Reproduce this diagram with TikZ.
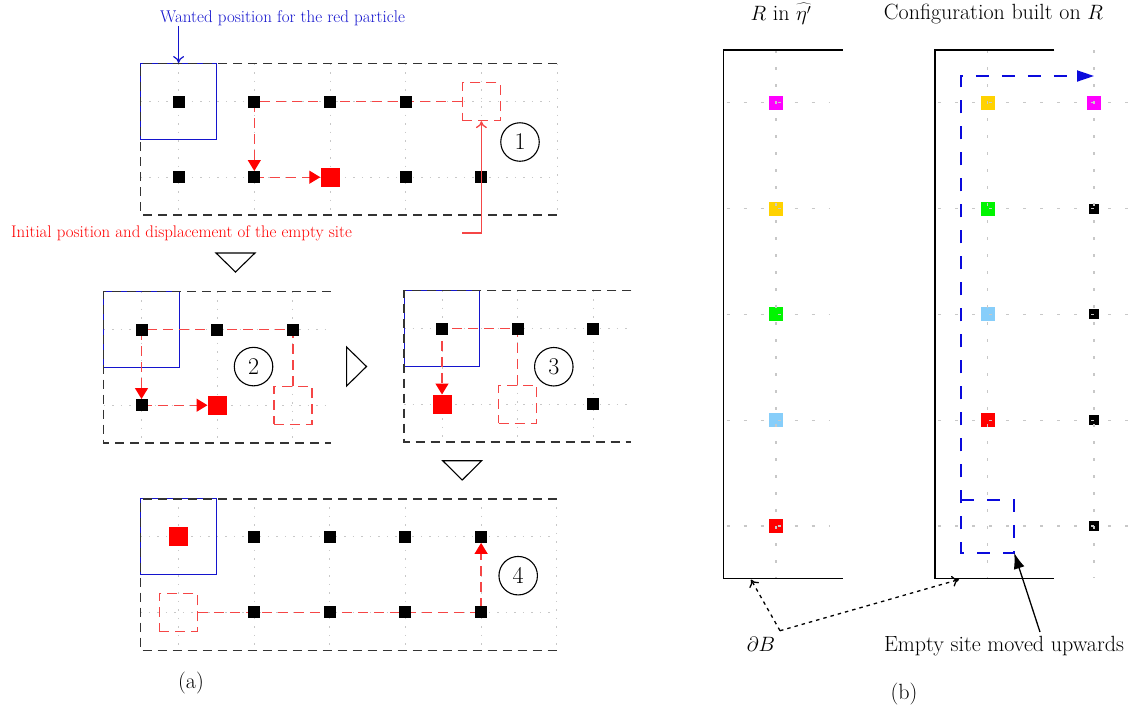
\documentclass[tikz,border=0pt]{standalone}
\usetikzlibrary{arrows.meta}
\definecolor{redl}{RGB}{245,70,70}
\definecolor{bluet}{RGB}{20,20,205}
\definecolor{bluep}{RGB}{10,10,220}
\definecolor{gridc}{RGB}{200,200,200}
\definecolor{goldc}{RGB}{255,210,0}
\definecolor{lbluec}{RGB}{135,206,250}
\definecolor{greenc}{RGB}{0,245,0}
\definecolor{magc}{RGB}{255,0,255}
\newcommand\myBig{\fontsize{22}{26}\selectfont}
\newcommand\mySmall{\fontsize{16.85}{19}\selectfont}
\newcommand\myBlue{\fontsize{17}{20}\selectfont}
\newcommand\myNum{\fontsize{24}{28}\selectfont}
\pgfdeclarelayer{gridlayer}
\pgfdeclarelayer{pathlayer}
\pgfsetlayers{gridlayer,pathlayer,main}
\begin{document}
\begin{tikzpicture}[x=1pt,y=-1pt,
 gridA/.style={draw=gridc,line width=1pt,dash pattern=on 1.5pt off 7pt},
 gridB/.style={draw=gridc,line width=1.2pt,dash pattern=on 3pt off 14pt},
 frame/.style={draw=black!80,line width=1.4pt,dash pattern=on 9pt off 6pt},
 target/.style={draw=bluet,line width=1.2pt,minimum size=75.7pt,inner sep=0pt},
 blk/.style={fill=black,minimum size=12pt,inner sep=0pt},
 redsq/.style={fill=red,minimum size=19pt,inner sep=0pt},
 emptysite/.style={draw=redl,line width=1.3pt,dash pattern=on 10pt off 6pt,minimum size=38pt,inner sep=0pt},
 move/.style={draw=redl,line width=1.3pt,dash pattern=on 10pt off 6pt,-{Triangle[length=11pt,width=13pt,color=red]}},
 num/.style={circle,draw,line width=1.1pt,minimum size=38.5pt,inner sep=0pt,font=\myNum},
 turn/.style={draw,line width=1.1pt,line join=miter},
 opentip/.style={-{To[length=7pt,width=11pt]}},
 wall/.style={draw,line width=1.6pt},
 csq/.style={minimum size=14pt,inner sep=0pt},
 bsq/.style={fill=black,minimum size=10pt,inner sep=0pt},
 bpath/.style={draw=bluep,line width=1.8pt,dash pattern=on 13pt off 13pt},
 dots/.style={draw,line width=1.3pt,dash pattern=on 3.5pt off 4pt},
 lbl/.style={font=\myBig,inner sep=0pt}
]
\useasboundingbox (0,0) rectangle (1142,713);

% ---------------- panel 1
\begin{scope}[shift={(178.6,101.5)},x=75.7pt,y=-75.7pt]
 \begin{pgfonlayer}{gridlayer}
 \foreach \i in {0,...,5} \draw[gridA] (\i,-0.5) -- (\i,1.5);
 \foreach \j in {0,1} \draw[gridA] (-0.5,\j) -- (5,\j);
 \node[target] (p1t) at (0,0) {};
 \draw[frame] (5,-0.5) -- (-0.5,-0.5) -- (-0.5,1.5) -- (5,1.5);
 \end{pgfonlayer}
 \node[blk] (p1q00) at (0,0) {};
 \node[blk] (p1q10) at (1,0) {};
 \node[blk] (p1q20) at (2,0) {};
 \node[blk] (p1q30) at (3,0) {};
 \node[blk] (p1q01) at (0,1) {};
 \node[blk] (p1q11) at (1,1) {};
 \node[blk] (p1q31) at (3,1) {};
 \node[blk] (p1q41) at (4,1) {};
 \node[redsq] (p1r) at (2,1) {};
 \node[emptysite] (p1e) at (4,0) {};
 \begin{pgfonlayer}{pathlayer}
 \draw[move] (p1e.west) -- (p1q10.center) -- (p1q11.north);
 \draw[move] (p1q11.center) -- (p1r.west);
 \end{pgfonlayer}
 \node[num] (n1) at (4.51,0.535) {1};
\end{scope}

\node[text=bluet,font=\myBlue,anchor=base west,inner sep=0pt] (wanted) at (160,22.5) {Wanted position for the red particle};
\draw[bluet,line width=1.2pt,opentip] (wanted.south -| p1t.north) -- (p1t.north);
\node[text=red,font=\mySmall,anchor=base west,inner sep=0pt] (initial) at (11,237) {Initial position and displacement of the empty site};
\coordinate (labA) at (462,233);
\draw[redl,line width=1.3pt,opentip] (labA) -| (p1e.south);

% transition marks
\draw[turn] (442.7,460.7) -- (481.7,460.7) -- (462.2,480) -- cycle;
\draw[turn] (216,253) -- (255,253) -- (235.5,272) -- cycle;
\draw[turn] (346.6,347) -- (346.6,386) -- (366.5,366.5) -- cycle;

% ---------------- panel 2
\begin{scope}[shift={(141.5,329.5)},x=75.7pt,y=-75.7pt]
 \begin{pgfonlayer}{gridlayer}
 \foreach \i in {0,1,2} \draw[gridA] (\i,-0.5) -- (\i,1.5);
 \foreach \j in {0,1} \draw[gridA] (-0.5,\j) -- (2.5,\j);
 \node[target] (p2t) at (0,0) {};
 \draw[frame] (2.5,-0.5) -- (-0.5,-0.5) -- (-0.5,1.5) -- (2.5,1.5);
 \end{pgfonlayer}
 \node[blk] (p2q00) at (0,0) {};
 \node[blk] (p2q10) at (1,0) {};
 \node[blk] (p2q20) at (2,0) {};
 \node[blk] (p2q01) at (0,1) {};
 \node[redsq] (p2r) at (1,1) {};
 \node[emptysite] (p2e) at (2,1) {};
 \begin{pgfonlayer}{pathlayer}
 \draw[move] (p2e.north) -- (p2q20.center) -- (p2q00.center) -- (p2q01.north);
 \draw[move] (p2q01.center) -- (p2r.west);
 \end{pgfonlayer}
 \node[num] (n2) at (1.48,0.49) {2};
\end{scope}

% ---------------- panel 3
\begin{scope}[shift={(442,328.5)},x=75.7pt,y=-75.7pt]
 \begin{pgfonlayer}{gridlayer}
 \foreach \i in {0,1,2} \draw[gridA] (\i,-0.5) -- (\i,1.5);
 \foreach \j in {0,1} \draw[gridA] (-0.5,\j) -- (2.5,\j);
 \node[target] (p3t) at (0,0) {};
 \draw[frame] (2.5,-0.5) -- (-0.5,-0.5) -- (-0.5,1.5) -- (2.5,1.5);
 \end{pgfonlayer}
 \node[blk] (p3q00) at (0,0) {};
 \node[blk] (p3q10) at (1,0) {};
 \node[blk] (p3q20) at (2,0) {};
 \node[blk] (p3q21) at (2,1) {};
 \node[redsq] (p3r) at (0,1) {};
 \node[emptysite] (p3e) at (1,1) {};
 \begin{pgfonlayer}{pathlayer}
 \draw[move] (p3e.north) -- (p3q10.center) -- (p3q00.center) -- (p3r.north);
 \end{pgfonlayer}
 \node[num] (n3) at (1.477,0.505) {3};
\end{scope}

% ---------------- panel 4
\begin{scope}[shift={(178.3,536.7)},x=75.7pt,y=-75.7pt]
 \begin{pgfonlayer}{gridlayer}
 \foreach \i in {0,...,5} \draw[gridA] (\i,-0.5) -- (\i,1.5);
 \foreach \j in {0,1} \draw[gridA] (-0.5,\j) -- (5,\j);
 \node[target] (p4t) at (0,0) {};
 \draw[frame] (5,-0.5) -- (-0.5,-0.5) -- (-0.5,1.5) -- (5,1.5);
 \end{pgfonlayer}
 \foreach \i in {1,...,4} {
   \node[blk] (p4q\i0) at (\i,0) {};
   \node[blk] (p4q\i1) at (\i,1) {};
 }
 \node[redsq] (p4r) at (0,0) {};
 \node[emptysite] (p4e) at (0,1) {};
 \begin{pgfonlayer}{pathlayer}
 \draw[move] (p4e.east) -- (p4q41.center) -- (p4q40.south);
 \end{pgfonlayer}
 \node[num] (n4) at (4.49,0.515) {4};
\end{scope}

\node[lbl] (capa) at (191,683) {(a)};

% ---------------- panel (b)
\node[lbl] (titleL) at (781,14) {$R$ in $\widehat{\eta'}$};
\node[lbl] (titleR) at (993.5,14) {Configuration built on $R$};

% left box
\node[csq,fill=magc] (l0) at (776,102.7) {};
\node[csq,fill=goldc] (l1) at (776,208.5) {};
\node[csq,fill=greenc] (l2) at (776,314.3) {};
\node[csq,fill=lbluec] (l3) at (776,420.1) {};
\node[csq,fill=red] (l4) at (776,525.9) {};
\draw[gridB] (776,50) -- (776,578.3);
\foreach \y in {102.7,208.5,314.3,420.1,525.9} \draw[gridB] (726.7,\y) -- (829.3,\y);
\draw[wall] (842.7,50) -- (723.3,50) -- (723.3,578.3) -- (842.7,578.3);

% right box
\node[csq,fill=goldc] (r0) at (987.7,102.7) {};
\node[csq,fill=greenc] (r1) at (987.7,208.5) {};
\node[csq,fill=lbluec] (r2) at (987.7,314.3) {};
\node[csq,fill=red] (r3) at (987.7,420.1) {};
\node[csq,fill=magc] (s0) at (1094,102.7) {};
\node[bsq] (s1) at (1094,208.5) {};
\node[bsq] (s2) at (1094,314.3) {};
\node[bsq] (s3) at (1094,420.1) {};
\node[bsq] (s4) at (1094,525.9) {};
\draw[gridB] (987.7,50) -- (987.7,578.3);
\draw[gridB] (1094,50) -- (1094,578.3);
\foreach \y in {102.7,208.5,314.3,420.1,525.9} \draw[gridB] (938,\y) -- (1142,\y);
\draw[wall] (1054.3,50) -- (935,50) -- (935,578.3) -- (1054.3,578.3);

\node[minimum size=52.5pt,inner sep=0pt] (be) at (987.7,526.3) {};
\coordinate (btip) at (1094,76);
\draw[bpath,-{Triangle[length=17pt,width=11pt]}] (be.north west) -- (be.north east) -- (be.south east) -- (be.south west) -- (be.west |- btip) -- (btip);

\node[lbl,anchor=base] (emp) at (1004,651) {Empty site moved upwards};
\coordinate (empA) at (1040,632);
\draw[line width=1.3pt,-{Latex[length=16pt,width=11pt]}] (empA) -- (be.south east);

\node[lbl,anchor=base] (dB) at (761,651) {$\partial B$};
\coordinate (dBm) at (780,630.7);
\coordinate (wl) at (751,579.5);
\coordinate (wr) at (959,579.5);
\draw[dots,opentip] (dBm) -- (wl);
\draw[dots,opentip] (dBm) -- (wr);

\node[lbl] (capb) at (904,694) {(b)};
\end{tikzpicture}
\end{document}
